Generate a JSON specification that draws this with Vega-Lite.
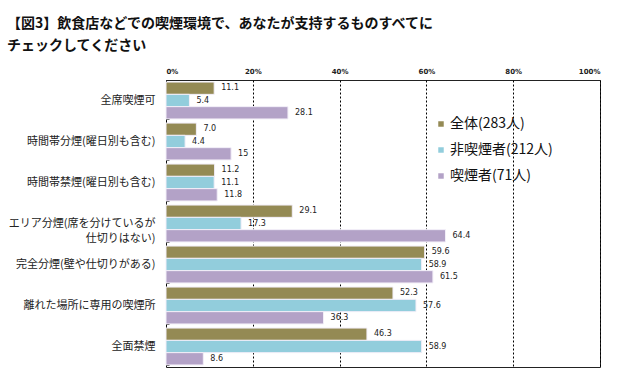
{
  "$schema": "https://vega.github.io/schema/vega-lite/v6.json",
  "width": 434,
  "height": 287,
  "autosize": "none",
  "padding": {"left": 166, "top": 80, "right": 30, "bottom": 21},
  "background": "white",
  "title": {
    "text": ["【図3】飲食店などでの喫煙環境で、あなたが支持するものすべてに", "チェックしてください"],
    "anchor": "start",
    "frame": "group",
    "dx": -159,
    "offset": 14,
    "font": "Noto Sans CJK JP",
    "fontSize": 14,
    "fontWeight": "bold",
    "lineHeight": 22,
    "color": "#111"
  },
  "data": {
    "values": [
      {"item": "全席喫煙可", "group": "全体(283人)", "value": 11.1, "label": "11.1"},
      {"item": "全席喫煙可", "group": "非喫煙者(212人)", "value": 5.4, "label": "5.4"},
      {"item": "全席喫煙可", "group": "喫煙者(71人)", "value": 28.1, "label": "28.1"},
      {"item": "時間帯分煙(曜日別も含む)", "group": "全体(283人)", "value": 7.0, "label": "7.0"},
      {"item": "時間帯分煙(曜日別も含む)", "group": "非喫煙者(212人)", "value": 4.4, "label": "4.4"},
      {"item": "時間帯分煙(曜日別も含む)", "group": "喫煙者(71人)", "value": 15, "label": "15"},
      {"item": "時間帯禁煙(曜日別も含む)", "group": "全体(283人)", "value": 11.2, "label": "11.2"},
      {"item": "時間帯禁煙(曜日別も含む)", "group": "非喫煙者(212人)", "value": 11.1, "label": "11.1"},
      {"item": "時間帯禁煙(曜日別も含む)", "group": "喫煙者(71人)", "value": 11.8, "label": "11.8"},
      {"item": "エリア分煙(席を分けているが|仕切りはない)", "group": "全体(283人)", "value": 29.1, "label": "29.1"},
      {"item": "エリア分煙(席を分けているが|仕切りはない)", "group": "非喫煙者(212人)", "value": 17.3, "label": "17.3"},
      {"item": "エリア分煙(席を分けているが|仕切りはない)", "group": "喫煙者(71人)", "value": 64.4, "label": "64.4"},
      {"item": "完全分煙(壁や仕切りがある)", "group": "全体(283人)", "value": 59.6, "label": "59.6"},
      {"item": "完全分煙(壁や仕切りがある)", "group": "非喫煙者(212人)", "value": 58.9, "label": "58.9"},
      {"item": "完全分煙(壁や仕切りがある)", "group": "喫煙者(71人)", "value": 61.5, "label": "61.5"},
      {"item": "離れた場所に専用の喫煙所", "group": "全体(283人)", "value": 52.3, "label": "52.3"},
      {"item": "離れた場所に専用の喫煙所", "group": "非喫煙者(212人)", "value": 57.6, "label": "57.6"},
      {"item": "離れた場所に専用の喫煙所", "group": "喫煙者(71人)", "value": 36.3, "label": "36.3"},
      {"item": "全面禁煙", "group": "全体(283人)", "value": 46.3, "label": "46.3"},
      {"item": "全面禁煙", "group": "非喫煙者(212人)", "value": 58.9, "label": "58.9"},
      {"item": "全面禁煙", "group": "喫煙者(71人)", "value": 8.6, "label": "8.6"}
    ]
  },
  "encoding": {
    "y": {
      "field": "item",
      "type": "nominal",
      "sort": null,
      "scale": {"paddingInner": 0.1, "paddingOuter": 0.05},
      "axis": {
        "title": null,
        "labelExpr": "split(datum.label, '|')",
        "labelFont": "Noto Sans CJK JP",
        "labelFontSize": 11,
        "labelColor": "#222",
        "labelLineHeight": 15,
        "labelPadding": 14,
        "ticks": true,
        "tickBand": "extent",
        "tickSize": -3,
        "tickColor": "#222",
        "domain": false,
        "labelLimit": 300
      }
    },
    "yOffset": {
      "field": "group",
      "type": "nominal",
      "scale": {"domain": ["全体(283人)", "非喫煙者(212人)", "喫煙者(71人)"], "paddingInner": 0, "paddingOuter": 0}
    },
    "x": {
      "field": "value",
      "type": "quantitative",
      "scale": {"domain": [0, 100], "nice": false},
      "axis": {
        "orient": "top",
        "title": null,
        "values": [0, 20, 40, 60, 80, 100],
        "labelExpr": "datum.value + '%'",
        "labelFont": "DejaVu Sans",
        "labelFontSize": 7,
        "labelFontWeight": "bold",
        "labelColor": "#222",
        "ticks": false,
        "domain": false,
        "labelPadding": 6,
        "grid": true,
        "gridColor": "#000",
        "gridDash": [2, 2],
        "gridWidth": 1,
        "gridOpacity": 1
      }
    }
  },
  "layer": [
    {
      "mark": {"type": "bar", "stroke": "#f2eef8", "strokeWidth": 1},
      "encoding": {
        "color": {
          "field": "group",
          "type": "nominal",
          "scale": {"domain": ["全体(283人)", "非喫煙者(212人)", "喫煙者(71人)"], "range": ["#948a54", "#92cddc", "#b3a2c7"]},
          "legend": {
            "title": null,
            "orient": "none",
            "legendX": 268,
            "legendY": 37,
            "padding": 0,
            "symbolType": "square",
            "symbolSize": 30,
            "symbolStrokeWidth": 0,
            "labelFont": "Noto Sans CJK JP",
            "labelFontSize": 14,
            "labelColor": "#111",
            "labelOffset": 2,
            "rowPadding": 12
          }
        }
      }
    },
    {
      "mark": {"type": "text", "align": "left", "dx": 7, "font": "DejaVu Sans", "fontSize": 8, "color": "#222"},
      "encoding": {"text": {"field": "label"}}
    }
  ],
  "config": {
    "view": {"stroke": "#222", "strokeWidth": 1}
  }
}
